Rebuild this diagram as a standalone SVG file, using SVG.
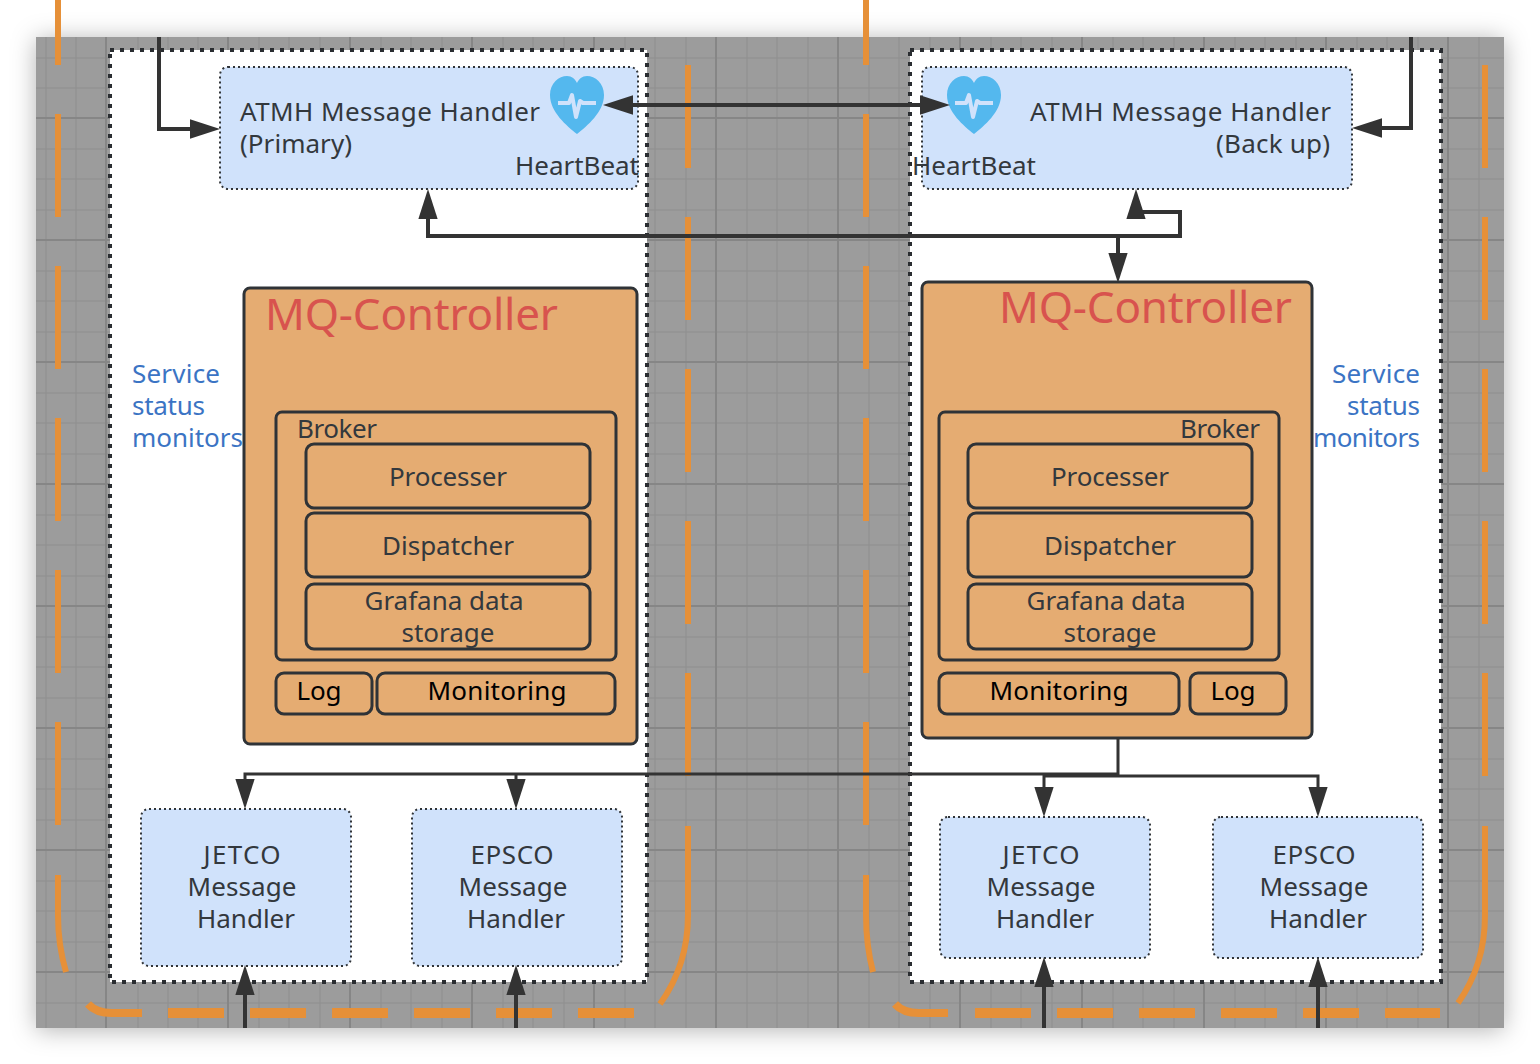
<svg xmlns="http://www.w3.org/2000/svg" width="1540" height="1064" viewBox="0 0 1540 1064">
<style>
text{font-family:"Noto Sans","Open Sans","Liberation Sans",sans-serif;font-size:26px;fill:#33383d;text-anchor:middle}
.s{text-anchor:start}.e{text-anchor:end}
.blk{fill:#000}
.svc{fill:#3b74c4}
.mq{fill:#d8534e;font-size:44px}
.grid{stroke:#929292;stroke-width:1.5;fill:none}
.major{stroke:#868686;stroke-width:2;fill:none}
.dash{stroke:#e69038;fill:none}
.v{stroke-width:6;stroke-dasharray:103 49}
.h{stroke-width:10;stroke-dasharray:56 26}
.c{stroke-width:6}
.panel{fill:#fff;stroke:#2a2d31;stroke-width:4;stroke-dasharray:4 6}
.blue{fill:#d0e2fb;stroke:#2f3337;stroke-width:2;stroke-dasharray:2 3}
.box{fill:#e5ac72;stroke:#2f3337;stroke-width:3}
.wire{fill:none;stroke:#333;stroke-width:4}
.thin{stroke-width:3}
.hp{fill:#54b8ee}
.ecg{fill:none;stroke:#d0e2fb;stroke-width:4;stroke-linejoin:round}
</style>
<defs>
<filter id="sh" x="-5%" y="-5%" width="110%" height="110%"><feDropShadow dx="0" dy="2" stdDeviation="12" flood-color="#000" flood-opacity="0.3"/></filter>
<marker id="a" markerUnits="userSpaceOnUse" markerWidth="30" markerHeight="22" viewBox="0 0 28 20" refX="14" refY="10" orient="auto-start-reverse"><path d="M0 1L28 10L0 19Z" fill="#333"/></marker>
<marker id="b" markerUnits="userSpaceOnUse" markerWidth="30" markerHeight="22" viewBox="0 0 28 20" refX="14" refY="10" orient="auto"><path d="M0 1L28 10L0 19Z" fill="#333"/></marker>
<path id="heart" d="M0 29C-10 21-27 7-27-10C-27-22-18-29-10-29C-5-29-2-26 0-22C2-26 5-29 10-29C18-29 27-22 27-10C27 7 10 21 0 29Z"/>
<path id="ecgl" d="M-19-2H-8L-5-10L-1 12L3-4L6-2H19"/>
</defs>
<rect x="36" y="37" width="1468" height="991" fill="#9c9c9c" filter="url(#sh)"/>
<path class="grid" d="M46 37V1028M76 37V1028M138 37V1028M168 37V1028M198 37V1028M259 37V1028M289 37V1028M320 37V1028M381 37V1028M411 37V1028M442 37V1028M503 37V1028M533 37V1028M564 37V1028M625 37V1028M655 37V1028M686 37V1028M747 37V1028M777 37V1028M808 37V1028M869 37V1028M899 37V1028M930 37V1028M991 37V1028M1021 37V1028M1052 37V1028M1113 37V1028M1143 37V1028M1174 37V1028M1235 37V1028M1265 37V1028M1296 37V1028M1357 37V1028M1387 37V1028M1418 37V1028M1479 37V1028M36 58H1504M36 88H1504M36 149H1504M36 179H1504M36 210H1504M36 271H1504M36 301H1504M36 332H1504M36 393H1504M36 423H1504M36 454H1504M36 515H1504M36 545H1504M36 576H1504M36 637H1504M36 667H1504M36 698H1504M36 759H1504M36 789H1504M36 820H1504M36 881H1504M36 911H1504M36 942H1504M36 1003H1504"/>
<path class="major" d="M106 37V1028M228 37V1028M350 37V1028M472 37V1028M594 37V1028M716 37V1028M838 37V1028M960 37V1028M1082 37V1028M1204 37V1028M1326 37V1028M1448 37V1028M36 118H1504M36 240H1504M36 362H1504M36 484H1504M36 606H1504M36 728H1504M36 850H1504M36 972H1504"/>
<g id="zone-dashes">
<path class="dash v" d="M58 -38V825"/>
<path class="dash c" d="M58 875V915Q58 945 66 972"/>
<path class="dash c" style="stroke-width:8" d="M88 1004Q96 1013 112 1013H142"/>
<path class="dash h" d="M168 1013H640"/>
<path class="dash v" d="M688 65V776"/>
<path class="dash c" d="M688 826V915Q688 965 660 1004"/>
<path class="dash v" d="M866 -38V825"/>
<path class="dash c" d="M866 875V915Q866 945 873 972"/>
<path class="dash c" style="stroke-width:8" d="M895 1004Q903 1013 919 1013H948"/>
<path class="dash h" d="M975 1013H1440"/>
<path class="dash v" d="M1485 65V776"/>
<path class="dash c" d="M1485 826V915Q1485 965 1458 1003"/>
</g>
<g id="zone-left"><rect class="panel" x="110" y="50" width="537" height="932"/></g>
<g id="zone-right"><rect class="panel" x="910" y="50" width="531" height="932"/></g>
<g id="atmh-primary">
<rect class="blue" x="220" y="67" width="418" height="122" rx="8"/>
<text class="s" x="240" y="121" textLength="300">ATMH Message Handler</text>
<text class="s" x="240" y="153" textLength="112">(Primary)</text>
<text class="e" x="639" y="175" textLength="124">HeartBeat</text>
<use href="#heart" class="hp" x="577" y="105"/><use href="#ecgl" class="ecg" x="577" y="105"/>
</g>
<g id="atmh-backup">
<rect class="blue" x="922" y="67" width="430" height="122" rx="8"/>
<text class="e" x="1331" y="121" textLength="301">ATMH Message Handler</text>
<text class="e" x="1330" y="153" textLength="114">(Back up)</text>
<text class="s" x="912" y="175" textLength="124">HeartBeat</text>
<use href="#heart" class="hp" x="974" y="105"/><use href="#ecgl" class="ecg" x="974" y="105"/>
</g>
<g id="mq-left">
<rect class="box" x="244" y="288" width="393" height="456" rx="6"/>
<text class="mq s" x="265" y="330" textLength="293">MQ-Controller</text>
<rect class="box" x="276" y="412" width="340" height="248" rx="6"/>
<text class="s" x="297" y="438" textLength="80">Broker</text>
<rect class="box" x="306" y="444" width="284" height="64" rx="8"/><text x="448" y="486" textLength="118">Processer</text>
<rect class="box" x="306" y="513" width="284" height="64" rx="8"/><text x="448" y="555" textLength="132">Dispatcher</text>
<rect class="box" x="306" y="584" width="284" height="65" rx="8"/><text x="444" y="610" textLength="159">Grafana data</text><text x="448" y="642" textLength="93">storage</text>
<rect class="box" x="276" y="673" width="96" height="41" rx="8"/><text class="blk" x="319" y="700" textLength="45">Log</text>
<rect class="box" x="377" y="673" width="238" height="41" rx="8"/><text class="blk" x="497" y="700" textLength="139">Monitoring</text>
</g>
<g id="mq-right">
<rect class="box" x="922" y="282" width="390" height="456" rx="6"/>
<text class="mq e" x="1292" y="323" textLength="293">MQ-Controller</text>
<rect class="box" x="939" y="412" width="340" height="248" rx="6"/>
<text class="e" x="1260" y="438" textLength="80">Broker</text>
<rect class="box" x="968" y="444" width="284" height="64" rx="8"/><text x="1110" y="486" textLength="118">Processer</text>
<rect class="box" x="968" y="513" width="284" height="64" rx="8"/><text x="1110" y="555" textLength="132">Dispatcher</text>
<rect class="box" x="968" y="584" width="284" height="65" rx="8"/><text x="1106" y="610" textLength="159">Grafana data</text><text x="1110" y="642" textLength="93">storage</text>
<rect class="box" x="939" y="673" width="240" height="41" rx="8"/><text class="blk" x="1059" y="700" textLength="139">Monitoring</text>
<rect class="box" x="1190" y="673" width="96" height="41" rx="8"/><text class="blk" x="1233" y="700" textLength="45">Log</text>
</g>
<g id="jetco-left"><rect class="blue" x="141" y="809" width="210" height="157" rx="8"/><text x="242" y="864" textLength="77">JETCO</text><text x="242" y="896" textLength="109">Message</text><text x="246" y="928" textLength="98">Handler</text></g>
<g id="epsco-left"><rect class="blue" x="412" y="809" width="210" height="157" rx="8"/><text x="512" y="864" textLength="83">EPSCO</text><text x="513" y="896" textLength="109">Message</text><text x="516" y="928" textLength="98">Handler</text></g>
<g id="jetco-right"><rect class="blue" x="940" y="817" width="210" height="141" rx="8"/><text x="1041" y="864" textLength="77">JETCO</text><text x="1041" y="896" textLength="109">Message</text><text x="1045" y="928" textLength="98">Handler</text></g>
<g id="epsco-right"><rect class="blue" x="1213" y="817" width="210" height="141" rx="8"/><text x="1314" y="864" textLength="83">EPSCO</text><text x="1314" y="896" textLength="109">Message</text><text x="1318" y="928" textLength="98">Handler</text></g>
<g id="label-left"><text class="svc s" x="132" y="383" textLength="88">Service</text><text class="svc s" x="132" y="415" textLength="73">status</text><text class="svc s" x="132" y="447" textLength="111">monitors</text></g>
<g id="label-right"><text class="svc e" x="1420" y="383" textLength="88">Service</text><text class="svc e" x="1420" y="415" textLength="73">status</text><text class="svc e" x="1420" y="447" textLength="107">monitors</text></g>
<g id="connectors">
<path class="wire" d="M159 37V129H205" marker-end="url(#a)"/>
<path class="wire" d="M1411 37V128H1367" marker-end="url(#a)"/>
<path class="wire" d="M618 105H935" marker-start="url(#a)" marker-end="url(#a)"/>
<path class="wire" d="M428 204V236H1180V212H1136V204" marker-start="url(#a)" marker-end="url(#a)"/>
<path class="wire" d="M1118 236V268" marker-end="url(#a)"/>
<path class="wire thin" d="M1118 738V774H245V794" marker-end="url(#a)"/>
<path class="wire thin" d="M516 774V794" marker-end="url(#a)"/>
<path class="wire thin" d="M1118 776H1044V802" marker-end="url(#a)"/>
<path class="wire thin" d="M1118 776H1318V802" marker-end="url(#a)"/>
<path class="wire" d="M245 1028V980" marker-end="url(#a)"/>
<path class="wire" d="M516 1028V980" marker-end="url(#a)"/>
<path class="wire" d="M1044 1028V972" marker-end="url(#a)"/>
<path class="wire" d="M1318 1028V972" marker-end="url(#a)"/>
</g>
</svg>
